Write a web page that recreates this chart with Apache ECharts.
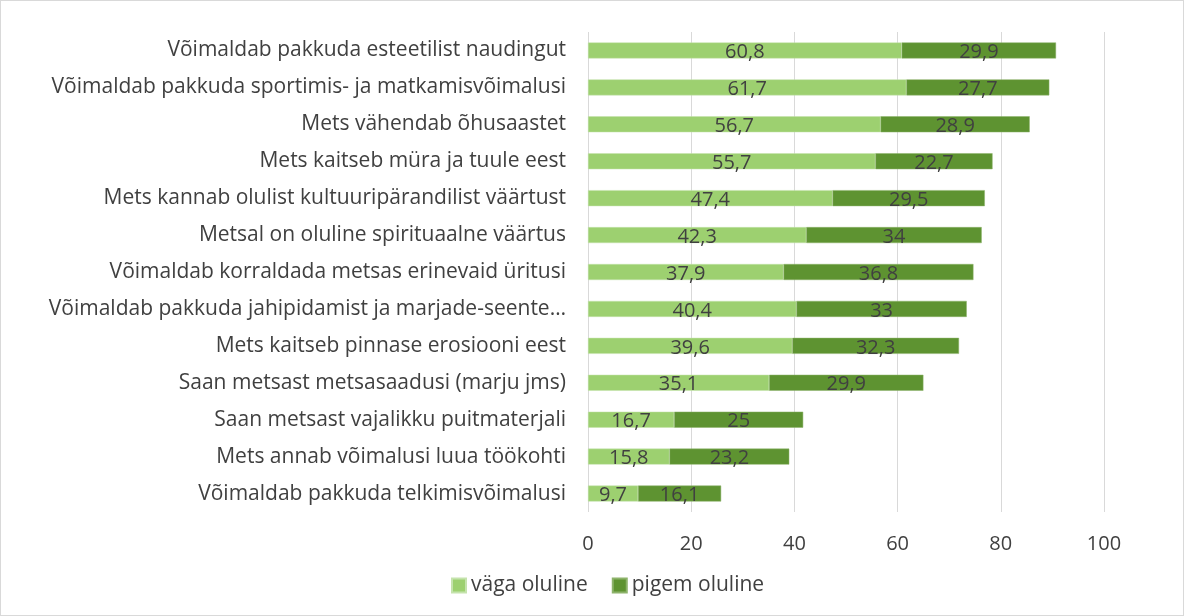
<!DOCTYPE html>
<html>
<head>
<meta charset="utf-8">
<script src="https://cdn.jsdelivr.net/npm/echarts@6/dist/echarts.min.js"></script>
<style>
  html, body { margin: 0; padding: 0; background: #fff; }
  #container { width: 1184px; height: 616px; box-sizing: border-box; border: 1px solid #d9d9d9; }
</style>
</head>
<body>
<div id="container"></div>
<script>
const categories = [
  'Võimaldab pakkuda esteetilist naudingut',
  'Võimaldab pakkuda sportimis- ja matkamisvõimalusi',
  'Mets vähendab õhusaastet',
  'Mets kaitseb müra ja tuule eest',
  'Mets kannab olulist kultuuripärandilist väärtust',
  'Metsal on oluline spirituaalne väärtus',
  'Võimaldab korraldada metsas erinevaid üritusi',
  'Võimaldab pakkuda jahipidamist ja marjade-seente…',
  'Mets kaitseb pinnase erosiooni eest',
  'Saan metsast metsasaadusi (marju jms)',
  'Saan metsast vajalikku puitmaterjali',
  'Mets annab võimalusi luua töökohti',
  'Võimaldab pakkuda telkimisvõimalusi'
]
const vagaOluline = [60.8, 61.7, 56.7, 55.7, 47.4, 42.3, 37.9, 40.4, 39.6, 35.1, 16.7, 15.8, 9.7]
const pigemOluline = [29.9, 27.7, 28.9, 22.7, 29.5, 34, 36.8, 33, 32.3, 29.9, 25, 23.2, 16.1]
const xTicks = [0, 20, 40, 60, 80, 100]

const fontFamily = 'Open Sans, Noto Sans, sans-serif'
const textColor = '#404040'

const label = {
  show: true,
  position: 'inside',
  offset: [0, 2],
  color: textColor,
  fontFamily: fontFamily,
  fontSize: 20,
  formatter: (p) => String(p.value).replace('.', ',')
}

const option = {
  animation: false,
  color: ['#9dd070', '#5e9331'],
  grid: {
    left: 587,
    right: 79,
    top: 31,
    bottom: 103
  },
  legend: {
    data: ['väga oluline', 'pigem oluline'],
    left: 445,
    top: 569,
    itemWidth: 14,
    itemHeight: 14,
    itemGap: 24,
    itemTextGap: 4,
    icon: 'rect',
    textStyle: { color: textColor, fontFamily: fontFamily, fontSize: 21 }
  },
  xAxis: {
    type: 'value',
    min: xTicks[0],
    max: xTicks[xTicks.length - 1],
    interval: 20,
    axisLine: { show: false },
    axisTick: { show: false },
    splitLine: { lineStyle: { color: '#d9d9d9', width: 1 } },
    axisLabel: { color: textColor, fontFamily: fontFamily, fontSize: 20, margin: 22 }
  },
  yAxis: {
    type: 'category',
    inverse: true,
    data: categories,
    axisLine: { show: false },
    axisTick: { show: false },
    axisLabel: { color: textColor, fontFamily: fontFamily, fontSize: 21, margin: 22 }
  },
  series: [
    {
      name: 'väga oluline',
      type: 'bar',
      stack: 'total',
      barWidth: 16,
      data: vagaOluline,
      label: label,
      itemStyle: { borderColor: '#c5e3ad', borderWidth: 0.5 }
    },
    {
      name: 'pigem oluline',
      type: 'bar',
      stack: 'total',
      barWidth: 16,
      data: pigemOluline,
      label: label,
      itemStyle: { borderColor: '#8db36b', borderWidth: 0.5 }
    }
  ]
}

const myChart = echarts.init(document.getElementById('container'))
myChart.setOption(option)
</script>
</body>
</html>
